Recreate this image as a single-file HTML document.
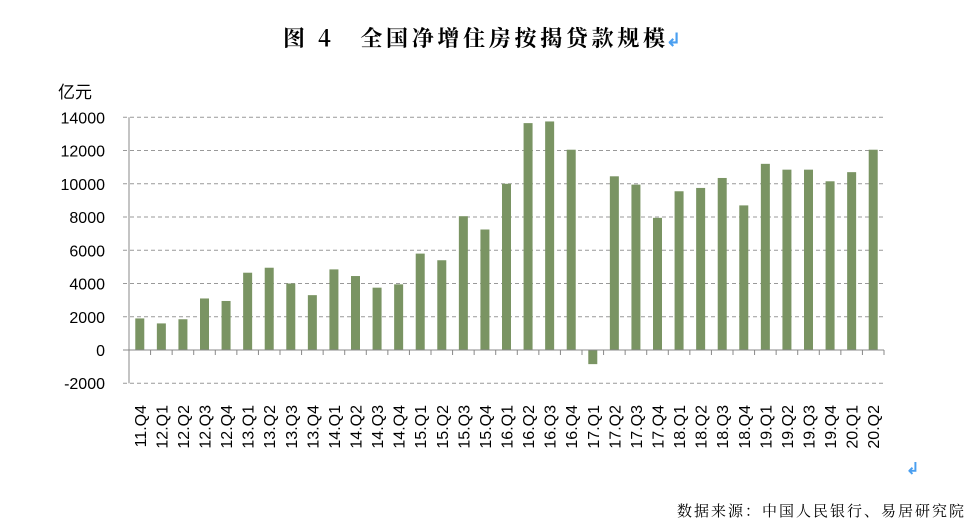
<!DOCTYPE html>
<html><head><meta charset="utf-8"><style>
body{margin:0;background:#fff;width:976px;height:524px;overflow:hidden;font-family:"Liberation Sans","Noto Sans CJK SC",sans-serif}
</style></head><body>
<svg width="976" height="524">
<text x="283" y="46" textLength="382" lengthAdjust="spacing" font-size="22" font-weight="bold" font-family="'Noto Serif CJK SC','Noto Sans CJK SC',serif">图 4　全国净增住房按揭贷款规模</text>
<text x="666" y="46" font-size="18" font-weight="bold" fill="#4a9ff0">↲</text>
<text x="58" y="98" font-size="17">亿元</text>
<g id="grid"></g><g id="bars"></g><g id="axes"></g>
<text x="906" y="474" font-size="16" font-weight="bold" fill="#4a9ff0">↲</text>
<text x="966" y="516" text-anchor="end" font-size="15" letter-spacing="2" font-family="'Noto Serif CJK SC','Noto Sans CJK SC',serif">数据来源：中国人民银行、易居研究院</text>
</svg>
<script>
const categories=["11.Q4","12.Q1","12.Q2","12.Q3","12.Q4","13.Q1","13.Q2","13.Q3","13.Q4","14.Q1","14.Q2","14.Q3","14.Q4","15.Q1","15.Q2","15.Q3","15.Q4","16.Q1","16.Q2","16.Q3","16.Q4","17.Q1","17.Q2","17.Q3","17.Q4","18.Q1","18.Q2","18.Q3","18.Q4","19.Q1","19.Q2","19.Q3","19.Q4","20.Q1","20.Q2"];
const values=[1900,1600,1850,3100,2950,4650,4950,4000,3300,4850,4450,3750,3950,5800,5400,8050,7250,10000,13650,13750,12050,-850,10450,9950,7950,9550,9750,10350,8700,11200,10850,10850,10150,10700,12050];
const yTicks=[-2000,0,2000,4000,6000,8000,10000,12000,14000];
const NS="http://www.w3.org/2000/svg";
const x0=129,x1=884,yZero=350,pxPer=(350-117.3)/14000;
const y=v=>yZero-v*pxPer;
const bw=(x1-x0)/categories.length;
const xc=i=>x0+bw*(i+0.5);
function mk(t,a,p){const e=document.createElementNS(NS,t);for(const k in a)e.setAttribute(k,a[k]);p.appendChild(e);return e;}
const grid=document.getElementById('grid'),bars=document.getElementById('bars'),axes=document.getElementById('axes');
yTicks.forEach(t=>{
 if(t!==0){const l=mk('line',{x1:x0-6,x2:x1,y1:y(t),y2:y(t),stroke:'#999','stroke-dasharray':'4,3','stroke-width':1},grid);
 
 }
 const tx=mk('text',{x:105,y:y(t)+6,'text-anchor':'end','font-size':16},axes);tx.textContent=t;
 
 
});
values.forEach((v,i)=>{
 const r=mk('rect',{x:xc(i)-4.5,y:Math.min(y(v),yZero),width:9,height:Math.abs(y(v)-yZero),fill:'#7a9463'},bars);
 
 
});
const ya=mk('line',{x1:x0,x2:x0,y1:y(14000),y2:y(-2000),stroke:'#888'},axes);


const xa=mk('line',{x1:x0-6,x2:x1,y1:yZero,y2:yZero,stroke:'#888'},axes);


categories.forEach((c,i)=>{
 const tk=mk('line',{x1:x0+bw*(i+1),x2:x0+bw*(i+1),y1:yZero,y2:yZero+5,stroke:'#888'},axes);
 
 
 const t=mk('text',{x:0,y:0,'text-anchor':'end','font-size':16,transform:`translate(${xc(i)+6},405) rotate(-90)`},axes);
 t.textContent=c;
 
 
});
</script>
</body></html>
